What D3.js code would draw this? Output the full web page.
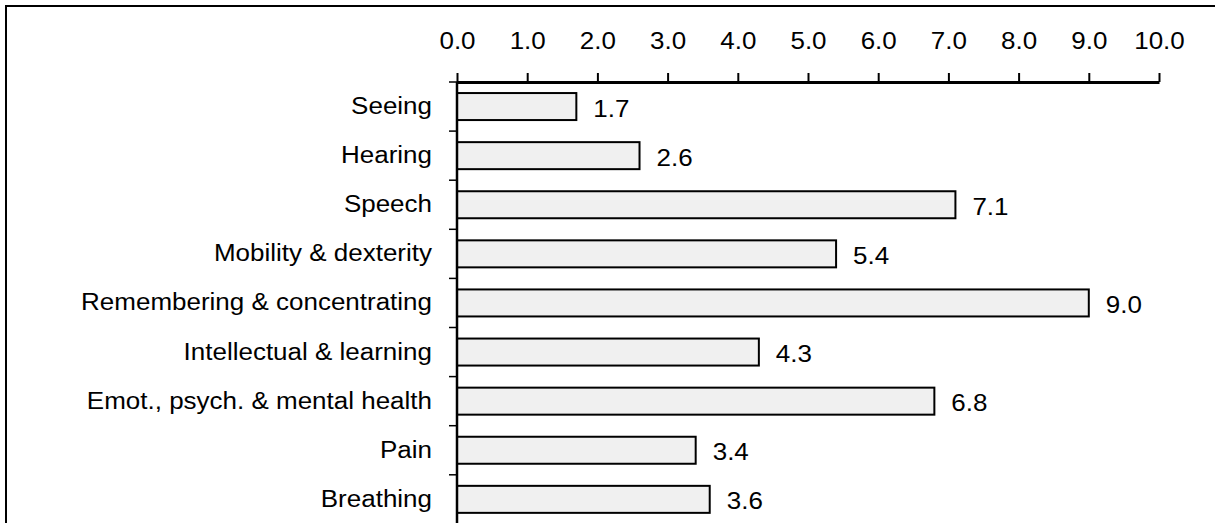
<!DOCTYPE html>
<html>
<head>
<meta charset="utf-8">
<script src="https://cdn.jsdelivr.net/npm/d3@7"></script>
<style>
  html, body { margin: 0; padding: 0; background: #fff; }
  svg { display: block; }
  text { font-family: "Liberation Sans", Arial, sans-serif; fill: #000; }
</style>
</head>
<body>
<svg id="chart" width="1215" height="523"></svg>
<script>
// Functional difficulty categories and their values
const categories = [
  "Seeing",
  "Hearing",
  "Speech",
  "Mobility & dexterity",
  "Remembering & concentrating",
  "Intellectual & learning",
  "Emot., psych. & mental health",
  "Pain",
  "Breathing"
];
const values = [1.7, 2.6, 7.1, 5.4, 9.0, 4.3, 6.8, 3.4, 3.6];
const tickValues = [0, 1, 2, 3, 4, 5, 6, 7, 8, 9, 10];

const W = 1215, H = 523;
const FONT = 23, STRETCH = 1.13;

const svg = d3.select("#chart");

// outer frame (top and left edges)
svg.append("path")
  .attr("d", `M6,${H} V6 H${W}`)
  .attr("fill", "none")
  .attr("stroke", "#000")
  .attr("stroke-width", 2);

const x = d3.scaleLinear().domain([0, 10]).range([457, 1159]);
const y = d3.scaleBand()
  .domain(categories)
  .range([82, 82 + 9 * 49.1])
  .paddingInner(0.45)
  .paddingOuter(0.225);

// bars
svg.append("g").selectAll("rect")
  .data(categories)
  .join("rect")
  .attr("x", x(0))
  .attr("y", d => y(d))
  .attr("width", (d, i) => x(values[i]) - x(0))
  .attr("height", y.bandwidth())
  .attr("fill", "#f0f0f0")
  .attr("stroke", "#000")
  .attr("stroke-width", 2);

// value labels
svg.append("g").selectAll("text")
  .data(categories)
  .join("text")
  .attr("transform", (d, i) =>
    `translate(${x(values[i]) + 17},${y(d) + y.bandwidth() / 2 + 10}) scale(${STRETCH},1)`)
  .attr("font-size", FONT)
  .text((d, i) => d3.format(".1f")(values[i]));

// top axis
const axis = svg.append("g")
  .attr("transform", `translate(0,${y.range()[0]})`)
  .call(d3.axisTop(x)
    .tickValues(tickValues)
    .tickFormat(d3.format(".1f"))
    .tickSize(9)
    .tickSizeOuter(0)
    .tickPadding(24));
axis.select(".domain").attr("stroke", "#000").attr("stroke-width", 3);
axis.selectAll(".tick line").attr("stroke", "#000").attr("stroke-width", 2);
axis.selectAll(".tick text")
  .attr("font-size", FONT)
  .attr("font-family", null)
  .attr("transform", `scale(${STRETCH},1)`);

// vertical category axis with ticks between bands
const y0 = y.range()[0];
svg.append("line")
  .attr("x1", x(0)).attr("x2", x(0))
  .attr("y1", y0).attr("y2", H)
  .attr("stroke", "#000")
  .attr("stroke-width", 2.5);
svg.append("g").selectAll("line")
  .data(d3.range(categories.length + 1))
  .join("line")
  .attr("x1", x(0) - 8).attr("x2", x(0))
  .attr("y1", i => y0 + i * y.step())
  .attr("y2", i => y0 + i * y.step())
  .attr("stroke", "#000")
  .attr("stroke-width", 1.5);

// category labels
svg.append("g").selectAll("text")
  .data(categories)
  .join("text")
  .attr("text-anchor", "end")
  .attr("transform", d =>
    `translate(432,${y(d) + y.bandwidth() / 2 + 7.5}) scale(${STRETCH},1)`)
  .attr("font-size", FONT)
  .text(d => d);
</script>
</body>
</html>
